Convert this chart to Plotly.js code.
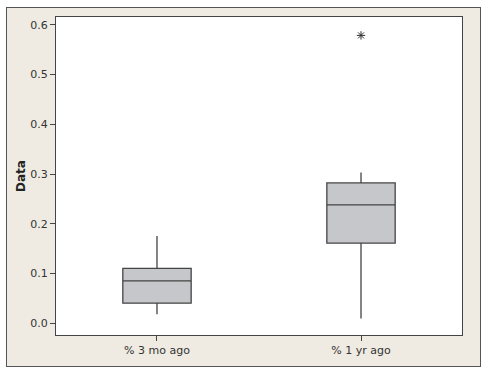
<!DOCTYPE html>
<html>
<head>
<meta charset="utf-8">
<script src="https://cdn.plot.ly/plotly-3.0.1.min.js"></script>
<style>
html,body{margin:0;padding:0;background:#ffffff;}
#chart{position:absolute;left:6px;top:7px;width:473px;height:358px;border:1px solid #555;}
</style>
</head>
<body>
<div id="chart"></div>
<script>
const categories = ["% 3 mo ago", "% 1 yr ago"];
const q1 = [0.040, 0.161];
const median = [0.085, 0.238];
const q3 = [0.110, 0.282];
const lowerWhisker = [0.018, 0.009];
const upperWhisker = [0.175, 0.303];
const outlierCategories = ["% 1 yr ago"];
const outlierValues = [0.579];
const yTicks = [0.0, 0.1, 0.2, 0.3, 0.4, 0.5, 0.6];
const yTickLabels = ["0.0", "0.1", "0.2", "0.3", "0.4", "0.5", "0.6"];

const traces = [
  {
    type: "box",
    x: categories,
    q1: q1,
    median: median,
    q3: q3,
    lowerfence: lowerWhisker,
    upperfence: upperWhisker,
    boxpoints: false,
    width: 0.335,
    whiskerwidth: 0,
    fillcolor: "#C6C7CB",
    line: {color: "#444444", width: 1.3},
    hoverinfo: "skip",
    showlegend: false
  },
  {
    type: "scatter",
    mode: "markers",
    x: outlierCategories,
    y: outlierValues,
    marker: {symbol: "asterisk-open", size: 7, color: "#333333", line: {color: "#333333", width: 1}},
    showlegend: false,
    hoverinfo: "skip"
  }
];

const layout = {
  width: 473,
  height: 358,
  margin: {l: 49, r: 18, t: 9, b: 31},
  paper_bgcolor: "#EFEBE2",
  plot_bgcolor: "#FFFFFF",
  font: {family: "DejaVu Sans, sans-serif", size: 11, color: "#333333"},
  xaxis: {
    type: "category",
    range: [-0.495, 1.495],
    showgrid: false,
    zeroline: false,
    showline: true,
    mirror: true,
    linecolor: "#444444",
    linewidth: 1,
    ticks: "outside",
    ticklen: 5,
    tickcolor: "#444444",
    tickfont: {family: "DejaVu Sans, sans-serif", size: 11, color: "#333333"}
  },
  yaxis: {
    range: [-0.024, 0.616],
    tickvals: yTicks,
    ticktext: yTickLabels,
    showgrid: false,
    zeroline: false,
    showline: true,
    mirror: true,
    linecolor: "#444444",
    linewidth: 1,
    ticks: "outside",
    ticklen: 5,
    tickcolor: "#444444",
    tickfont: {family: "DejaVu Sans, sans-serif", size: 11, color: "#333333"},
    title: {text: "<b>Data</b>", font: {family: "DejaVu Sans, sans-serif", size: 12, color: "#222222"}, standoff: 2}
  }
};

Plotly.newPlot("chart", traces, layout, {displayModeBar: false, staticPlot: true});
</script>
</body>
</html>
